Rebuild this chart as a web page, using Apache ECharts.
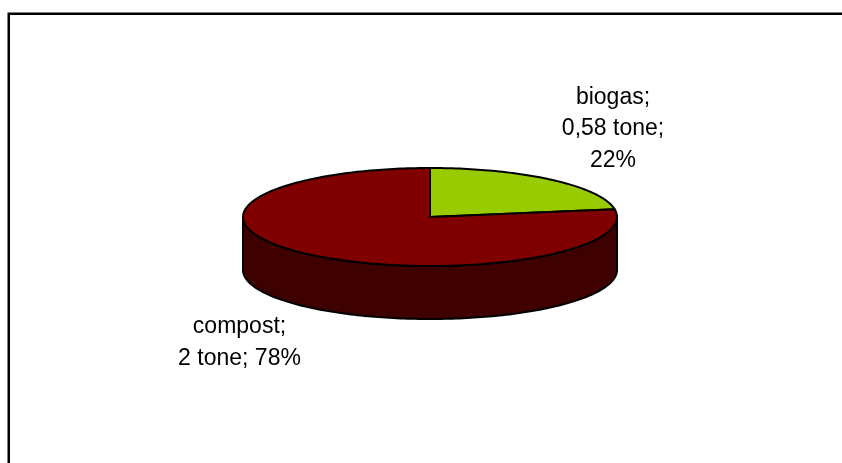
<!DOCTYPE html>
<html><head><meta charset="utf-8">
<style>html,body{margin:0;padding:0;background:#fff}#c{width:842px;height:463px}</style>
<script src="https://cdn.jsdelivr.net/npm/echarts@6/dist/echarts.min.js"></script>
</head><body><div id="c"></div>
<script>
const categories = ['biogas', 'compost'];
const values = [0.58, 2];
const valueLabels = ['0,58 tone', '2 tone'];
const percentLabels = ['22%', '78%'];
const colors = ['#99CC00', '#800000'];
const sideColors = ['#4d6600', '#3f0000'];

const cx = 430, cy = 217, rx = 187, ry = 49, depth = 53;
const total = values.reduce((a, b) => a + b, 0);
const pt = (a, dy) => [cx + rx * Math.sin(a), cy + dy - ry * Math.cos(a)];
function arc(a0, a1, dy) {
  const n = Math.max(2, Math.ceil(Math.abs(a1 - a0) / 0.02)), out = [];
  for (let i = 0; i <= n; i++) out.push(pt(a0 + (a1 - a0) * i / n, dy));
  return out;
}
const lineStyle = { stroke: '#000', lineWidth: 2, lineJoin: 'round' };

function renderItem(params, api) {
  const v = api.value(1);
  let before = 0;
  for (let i = 0; i < params.dataIndex; i++) before += values[i];
  const a0 = before / total * Math.PI * 2;
  const a1 = (before + v) / total * Math.PI * 2;
  const children = [];
  const s0 = Math.max(a0, Math.PI / 2), s1 = Math.min(a1, Math.PI * 3 / 2);
  if (s1 > s0) {
    const wall = arc(s0, s1, 0).concat(arc(s1, s0, depth));
    children.push({ type: 'polygon', shape: { points: wall },
      style: Object.assign({ fill: sideColors[params.dataIndex] }, lineStyle) });
  }
  const top = [[cx, cy]].concat(arc(a0, a1, 0));
  children.push({ type: 'polygon', shape: { points: top },
    style: Object.assign({ fill: colors[params.dataIndex] }, lineStyle) });
  return { type: 'group', children };
}

const textStyle = { fill: '#000', fontFamily: '"Liberation Sans", Arial, sans-serif', fontSize: 23, lineHeight: 31.5 };
const option = {
  animation: false,
  backgroundColor: '#fff',
  series: [{
    type: 'custom', coordinateSystem: 'none', silent: true,
    data: values.map((v, i) => [i, v]),
    encode: { value: 1 },
    renderItem
  }],
  graphic: [
    { type: 'polyline', shape: { points: [[8.75, 463], [8.75, 13.75], [842, 13.75]] },
      style: { fill: null, stroke: '#000', lineWidth: 2.5 }, silent: true },
    { type: 'text', x: 613, y: 129, style: Object.assign({
        text: categories[0] + ';\n' + valueLabels[0] + ';\n' + percentLabels[0],
        align: 'center', verticalAlign: 'middle' }, textStyle) },
    { type: 'text', x: 239.5, y: 342.5, style: Object.assign({
        text: categories[1] + ';\n' + valueLabels[1] + '; ' + percentLabels[1],
        align: 'center', verticalAlign: 'middle' }, textStyle) }
  ]
};
const chart = echarts.init(document.getElementById('c'), null, { renderer: 'canvas' });
chart.setOption(option);
</script></body></html>
